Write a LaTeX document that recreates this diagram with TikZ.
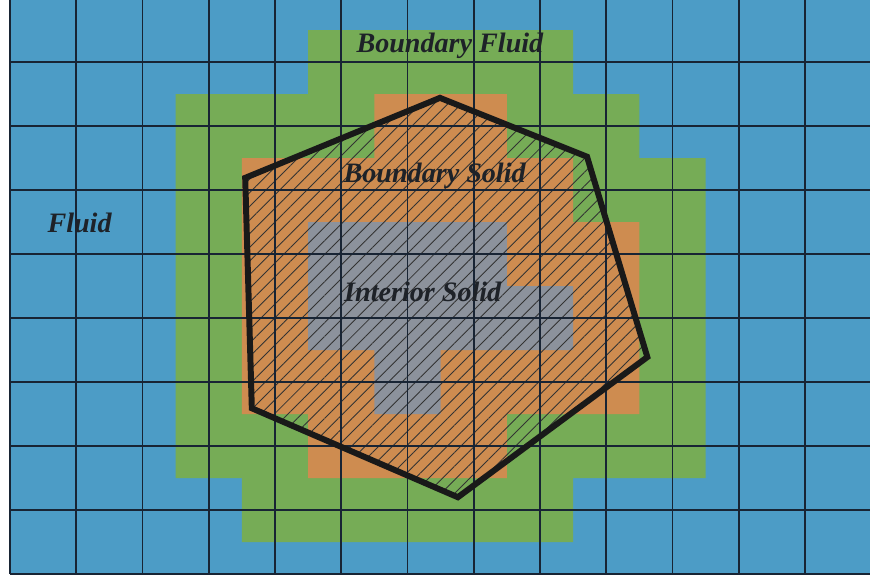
\documentclass[tikz,border=0pt]{standalone}
\usepackage{fontspec}
\setmainfont{Liberation Serif}
\usepackage{tikz}
\usetikzlibrary{patterns.meta}
\usepackage{xcolor}
\definecolor{fluidblue}{RGB}{76,156,198}
\definecolor{bfgreen}{RGB}{118,172,86}
\definecolor{bsorange}{RGB}{206,140,80}
\definecolor{isgray}{RGB}{140,146,156}
\definecolor{gridnavy}{RGB}{24,36,52}
\definecolor{labelink}{RGB}{30,34,40}

\begin{document}
\begin{tikzpicture}[x=1.325cm,y=1.28cm,
  gridline/.style={draw=gridnavy,line width=1.1pt},
  hull/.style={draw=black!90,line width=3.4pt,line join=miter},
  hatch/.style={pattern={Lines[angle=45,distance=5.5pt,line width=0.5pt]},pattern color=black!80},
  region/.style={font=\fontsize{16}{18}\selectfont\bfseries\itshape,text=labelink,anchor=base,inner sep=0pt}]
\useasboundingbox (-0.151,-0.078) rectangle (12.981,8.969);
\fill[white] (-0.151,-0.078) rectangle (12.981,8.969);
\clip (-0.151,-0.078) rectangle (12.981,8.969);
\fill[fluidblue] (0,0) rectangle (13,9);
% boundary fluid
\fill[bfgreen] (4.5,8.5) -- (8.5,8.5) -- (8.5,7.5) -- (9.5,7.5) -- (9.5,6.5) -- (10.5,6.5)
  -- (10.5,1.5) -- (8.5,1.5) -- (8.5,0.5) -- (3.5,0.5) -- (3.5,1.5) -- (2.5,1.5)
  -- (2.5,7.5) -- (4.5,7.5) -- cycle;
% boundary solid
\fill[bsorange] (5.5,7.5) -- (7.5,7.5) -- (7.5,6.5) -- (8.5,6.5) -- (8.5,5.5) -- (9.5,5.5)
  -- (9.5,2.5) -- (7.5,2.5) -- (7.5,1.5) -- (4.5,1.5) -- (4.5,2.5) -- (3.5,2.5)
  -- (3.5,6.5) -- (5.5,6.5) -- cycle;
% interior solid
\fill[isgray] (4.5,5.5) -- (7.5,5.5) -- (7.5,4.5) -- (8.5,4.5) -- (8.5,3.5) -- (6.5,3.5)
  -- (6.5,2.5) -- (5.5,2.5) -- (5.5,3.5) -- (4.5,3.5) -- cycle;
\coordinate (p1) at (6.49,7.44);
\coordinate (p2) at (8.71,6.52);
\coordinate (p3) at (9.62,3.39);
\coordinate (p4) at (6.76,1.20);
\coordinate (p5) at (3.65,2.59);
\coordinate (p6) at (3.55,6.19);
\fill[hatch] (p1) -- (p2) -- (p3) -- (p4) -- (p5) -- (p6) -- cycle;
\foreach \i in {0,...,13} \draw[gridline] (\i,0) -- (\i,9);
\foreach \j in {0,...,9} \draw[gridline] (0,\j) -- (13,\j);
\draw[hull] (p1) -- (p2) -- (p3) -- (p4) -- (p5) -- (p6) -- cycle;
\node[region] (bfluid) at (6.64,8.156) {Boundary Fluid};
\node[region] (bsolid) at (6.41,6.125) {Boundary Solid};
\node[region] (isolid) at (6.23,4.266) {Interior Solid};
\node[region] (fluid) at (1.05,5.33) {Fluid};
\end{tikzpicture}
\end{document}
